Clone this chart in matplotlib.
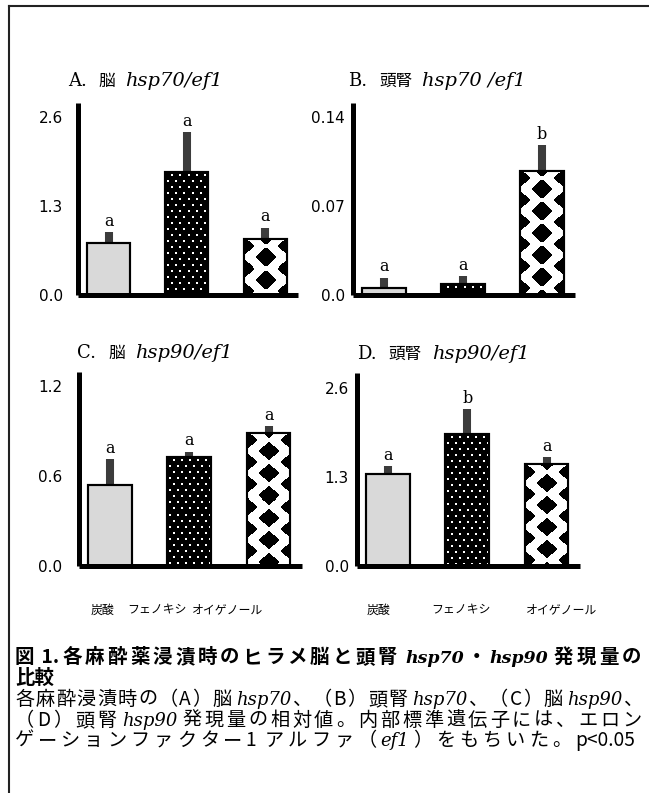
import re

import numpy as np
import matplotlib
matplotlib.use("Agg")
import matplotlib.pyplot as plt
from matplotlib.lines import Line2D

W, H = 649, 793

# data
categories = ["炭酸", "フェノキシ", "オイゲノール"]

brain_hsp70 = [0.76, 1.81, 0.82]
brain_hsp70_err = [0.17, 0.57, 0.17]
brain_hsp70_sig = ["a", "a", "a"]

kidney_hsp70 = [0.006, 0.009, 0.098]
kidney_hsp70_err = [0.008, 0.006, 0.020]
kidney_hsp70_sig = ["a", "a", "b"]

brain_hsp90 = [0.54, 0.727, 0.887]
brain_hsp90_err = [0.17, 0.035, 0.045]
brain_hsp90_sig = ["a", "a", "a"]

kidney_hsp90 = [1.34, 1.93, 1.49]
kidney_hsp90_err = [0.12, 0.36, 0.10]
kidney_hsp90_sig = ["a", "b", "a"]

ticks_a = [0.0, 1.3, 2.6]
ticks_b = [0.0, 0.07, 0.14]
ticks_c = [0.0, 0.6, 1.2]
ticks_d = [0.0, 1.3, 2.6]
ticklabels_a = ["0.0", "1.3", "2.6"]
ticklabels_b = ["0.0", "0.07", "0.14"]
ticklabels_c = ["0.0", "0.6", "1.2"]
ticklabels_d = ["0.0", "1.3", "2.6"]

SERIF = "DejaVu Serif"
CJK = "Noto Sans CJK JP"
STYLES = {
    "serif": dict(family=[SERIF, CJK], size=13),
    "ital": dict(family=[SERIF], style="italic", size=14),
    "cjk": dict(family=[CJK], size=12),
    "capb": dict(family=[CJK], weight="bold", size=14),
    "capbi": dict(family=[SERIF], weight="bold", style="italic", size=12.5),
    "cap": dict(family=[CJK], size=13.8),
    "capi": dict(family=[SERIF], style="italic", size=13),
}


def fig_xy(x, y):
    return x / W, 1 - y / H


def rich_line(fig, renderer, x, y, pieces, justify_to=None):
    """Draw text pieces of different fonts on one baseline (pixel coords), optionally justified."""
    units = []
    gap = 0
    for piece in pieces:
        if isinstance(piece, (int, float)):
            gap += piece
            continue
        s, style = piece
        if justify_to is not None and style in ("cap", "capb"):
            tokens = re.findall(r"[ -~]+|.", s)
        else:
            tokens = [s]
        for tok in tokens:
            units.append((tok, style, gap))
            gap = 0

    texts, widths = [], []
    for tok, style, _ in units:
        t = fig.text(0, 0, tok, ha="left", va="baseline", **STYLES[style])
        texts.append(t)
        widths.append(t.get_window_extent(renderer).width)

    extra = 0
    if justify_to is not None and len(units) > 1:
        natural = sum(widths) + sum(u[2] for u in units)
        extra = (justify_to - x - natural) / (len(units) - 1)

    cur = x
    for t, w, (_, _, g) in zip(texts, widths, units):
        cur += g
        t.set_position(fig_xy(cur, y))
        cur += w + extra


def dots_pattern(nx, ny):
    rows, cols = np.indices((ny, nx))
    shift = np.where((rows // 6) % 2 == 1, 4, 0)
    mask = ((rows + 3) % 6 < 2) & ((cols + shift + 2) % 8 < 2)
    return np.where(mask, 1.0, 0.0)


def diamond_pattern(nx, ny):
    rows, cols = np.indices((ny, nx)) + 0.5
    period_y = 22.0
    black = np.zeros((ny, nx), dtype=bool)
    for cx, cy in [(0.0, 8.0), (nx / 2, 8.0 + period_y / 2)]:
        dx = np.mod(cols - cx + nx / 2, nx) - nx / 2
        dy = np.mod(rows - cy + period_y / 2, period_y) - period_y / 2
        black |= np.abs(dx) / 10.5 + np.abs(dy) / 9.5 < 1
    return np.where(black, 0.0, 1.0)


def draw_panel(ax, values, errors, letters, ticks, ticklabels, ymax, pad):
    x = np.arange(len(values))
    width = 0.55
    ax.set_xlim(-0.39, 2.42)
    ax.set_ylim(0, ymax)

    # error bars (upper only) behind the bars
    ax.errorbar(x, values, yerr=[np.zeros(len(values)), errors], fmt="none",
                ecolor="#3c3c3c", elinewidth=5.8, capsize=0, zorder=1)

    bars = ax.bar(x, values, width=width, color=["#d9d9d9", "black", "white"],
                  edgecolor="black", linewidth=1.5, zorder=2)

    # fill patterns for bars 2 and 3
    for i, make in [(1, dots_pattern), (2, diamond_pattern)]:
        (x0, y0) = ax.transData.transform((x[i] - width / 2, 0))
        (x1, y1) = ax.transData.transform((x[i] + width / 2, values[i]))
        nx, ny = max(int(round(x1 - x0)), 1), max(int(round(y1 - y0)), 1)
        ax.imshow(make(nx, ny), cmap="gray", vmin=0, vmax=1, interpolation="nearest",
                  extent=(x[i] - width / 2, x[i] + width / 2, 0, values[i]),
                  aspect="auto", zorder=2.1, clip_path=bars[i])
    ax.bar(x, values, width=width, color="none", edgecolor="black", linewidth=1.5, zorder=2.2)
    ax.set_xlim(-0.39, 2.42)
    ax.set_ylim(0, ymax)

    for xi, v, e, s in zip(x, values, errors, letters):
        ax.annotate(s, (xi, v + e), xytext=(0, 4.5), textcoords="offset points",
                    ha="center", va="baseline", family=SERIF, size=11.5)

    ax.set_yticks(ticks)
    ax.set_yticklabels(ticklabels, family="DejaVu Sans", size=11)
    ax.set_xticks([])
    ax.tick_params(axis="y", length=0, pad=pad)
    for side in ["top", "right"]:
        ax.spines[side].set_visible(False)
    for side in ["left", "bottom"]:
        ax.spines[side].set_linewidth(3.6)
        ax.spines[side].set_capstyle("butt")
    ax.patch.set_visible(False)


fig = plt.figure(figsize=(W / 100, H / 100), dpi=100)


def add_axes_px(left, right, bottom, top):
    return fig.add_axes([left / W, 1 - bottom / H, (right - left) / W, (bottom - top) / H])


ax_a = add_axes_px(78, 298, 295.5, 103)
ax_b = add_axes_px(353, 575, 295.5, 103)
ax_c = add_axes_px(79, 302, 566, 372)
ax_d = add_axes_px(357, 580, 566, 373)

draw_panel(ax_a, brain_hsp70, brain_hsp70_err, brain_hsp70_sig, ticks_a, ticklabels_a, 2.81, 11)
draw_panel(ax_b, kidney_hsp70, kidney_hsp70_err, kidney_hsp70_sig, ticks_b, ticklabels_b, 0.1514, 6)
draw_panel(ax_c, brain_hsp90, brain_hsp90_err, brain_hsp90_sig, ticks_c, ticklabels_c, 1.293, 12)
draw_panel(ax_d, kidney_hsp90, kidney_hsp90_err, kidney_hsp90_sig, ticks_d, ticklabels_d, 2.82, 6)

renderer = fig.canvas.get_renderer()

# panel titles
rich_line(fig, renderer, 68, 86, [("A.", "serif"), 12, ("脳", "cjk"), 10, ("hsp70/ef1", "ital")])
rich_line(fig, renderer, 348, 86, [("B.", "serif"), 12, ("頭腎", "cjk"), 10, ("hsp70 /ef1", "ital")])
rich_line(fig, renderer, 77, 358, [("C.", "serif"), 12, ("脳", "cjk"), 10, ("hsp90/ef1", "ital")])
rich_line(fig, renderer, 357, 359, [("D.", "serif"), 12, ("頭腎", "cjk"), 10, ("hsp90/ef1", "ital")])

# category labels under the lower panels
label_x_c = [102, 157, 228]
label_x_d = [378, 461, 562]
for xs in (label_x_c, label_x_d):
    for xc, cat in zip(xs, categories):
        fig.text(*fig_xy(xc, 610), cat, ha="center", va="center", family=[CJK], size=8.6)

# caption
rich_line(fig, renderer, 15, 663, [("図 1.各麻酔薬浸漬時のヒラメ脳と頭腎", "capb"), 5, ("hsp70", "capbi"),
                                    ("・", "capb"), ("hsp90", "capbi"), 3, ("発現量の", "capb")],
          justify_to=641)
rich_line(fig, renderer, 15, 684, [("比較", "capb")])
rich_line(fig, renderer, 15, 705, [("各麻酔浸漬時の（A）脳", "cap"), 3, ("hsp70", "capi"), ("、（B）頭腎", "cap"), 3,
                                    ("hsp70", "capi"), ("、（C）脳", "cap"), 3, ("hsp90", "capi"), ("、", "cap")],
          justify_to=643)
rich_line(fig, renderer, 15, 726, [("（D）頭腎", "cap"), 3, ("hsp90", "capi"), 2,
                                    ("発現量の相対値。内部標準遺伝子には、エロン", "cap")],
          justify_to=641)
rich_line(fig, renderer, 15, 746, [("ゲーションファクター1 アルファ（", "cap"), ("ef1", "capi"),
                                    ("）をもちいた。p<0.05", "cap")],
          justify_to=635)

# frame lines (top and left)
fig.add_artist(Line2D([9 / W, 1], [1 - 6 / H, 1 - 6 / H], transform=fig.transFigure, color="#222222", lw=1.5))
fig.add_artist(Line2D([9 / W, 9 / W], [1 - 6 / H, 0], transform=fig.transFigure, color="#222222", lw=1.5))

fig.savefig("out.png", dpi=100)
